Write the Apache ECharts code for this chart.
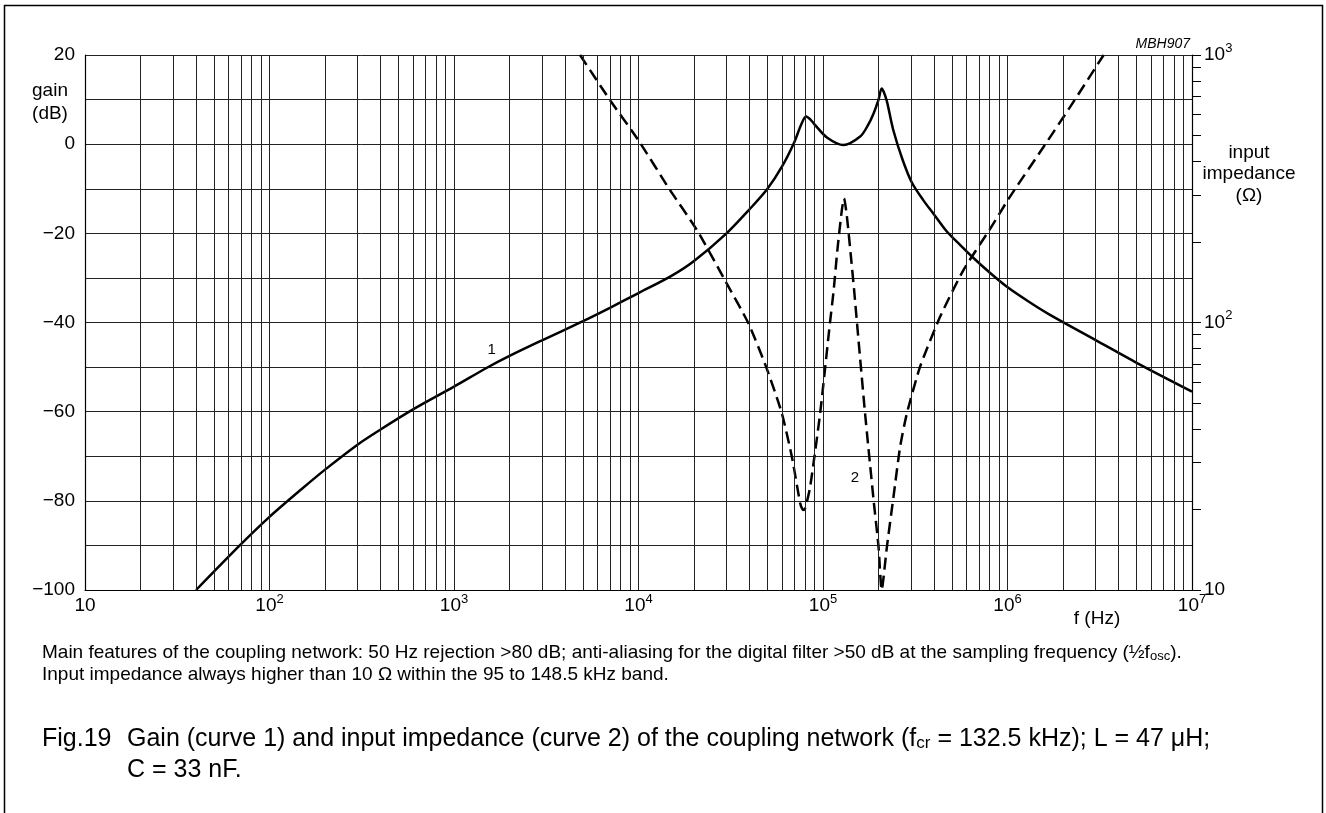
<!DOCTYPE html>
<html><head><meta charset="utf-8">
<script src="https://cdn.jsdelivr.net/npm/echarts@6/dist/echarts.min.js"></script>
<style>html,body{margin:0;padding:0;background:#fff}#c{width:1326px;height:813px}</style>
</head><body><div id="c"></div><script>
// ---- data ----
const gainFreq = [40,69,100,150,200,300,400,600,1000,1500,2000,3000,5000,7000,10000,15000,20000,30000,40000,50000,60000,70000,76000,81000,86000,91000,105000,129000,159000,175000,188000,200000,208000,213000,222000,241000,270000,303000,350000,397000,469000,560000,641000,800000,993000,1300000,1700000,2990000,5040000,10000000];
const gainDb   = [-100,-90,-83.6,-77.3,-73,-67.4,-64,-59.5,-54.4,-50.2,-47.5,-44,-39.7,-36.7,-33.4,-29.6,-26.2,-20,-14.6,-10,-5,0.5,4.3,6.2,5.4,4.2,1.5,-0.2,1.7,4.2,6.9,10,12.5,11.8,9.6,3,-3.5,-8.6,-12.6,-15.6,-19.6,-22.8,-25.2,-28.8,-32,-35.3,-38.3,-43.9,-49.1,-55.5];

const impFreq = [4820,7000,9970,14800,20700,29400,39400,49500,59800,67800,75200,77500,79000,81000,85200,96500,109000,114000,119700,126500,130000,134500,141400,147500,152000,169000,188000,200000,208000,222000,241000,262000,285000,336000,431000,577000,805000,1030000,1570000,2190000,3320000];
const impOhm  = [1000,679,481,313,222,144,99.3,67.4,45.8,31.5,21.1,20,19.9,20.8,24.3,45.8,99.3,130,187,263,291,252,179,132,104,45.8,21.7,14.5,10,14.5,22.3,34.4,45.8,68.4,105,157,224,295,454,641,1000];

const gridFreqs = [20,30,40,50,60,70,80,90,100,200,300,400,500,600,700,800,900,1000,2000,3000,4000,5000,6000,7000,8000,9000,10000,20000,30000,40000,50000,60000,70000,80000,90000,100000,200000,300000,400000,500000,600000,700000,800000,900000,1000000,2000000,3000000,4000000,5000000,6000000,7000000,8000000,9000000];
const rightTickValues = [10,20,30,40,50,60,70,80,90,100,200,300,400,500,600,700,800,900,1000];
const xLabelValues = [10,100,1000,10000,100000,1000000,10000000];
const rightLabelValues = [10,100,1000];
const curveLabels = [{name:'1', f:1600, db:-46.1},{name:'2', f:149000, db:-74.8}];

const FONT = '"Liberation Sans", Arial, Helvetica, sans-serif';
const pow10Label = v => {
  const e = Math.round(Math.log10(v));
  return e === 1 ? '{b|10}' : '{b|10}{s|' + e + '}';
};
const richSup = {
  b: {fontSize: 19, lineHeight: 28, color: '#000', fontFamily: FONT},
  s: {fontSize: 13, padding: [0, 0, 14, 0], color: '#000', fontFamily: FONT}
};

const chart = echarts.init(document.getElementById('c'), null, {renderer: 'canvas'});
chart.setOption({
  animation: false,
  backgroundColor: '#fff',
  textStyle: {fontFamily: FONT, color: '#000'},
  grid: {left: 85, right: 134, top: 55, bottom: 223, containLabel: false, outerBoundsMode: 'none'},
  xAxis: [{
    type: 'log', logBase: 10, min: 10, max: 10000000,
    axisLine: {show: true, onZero: false, lineStyle: {color: '#000', width: 1.2}},
    axisTick: {show: false},
    splitLine: {show: false},
    axisLabel: {show: true, interval: 0, margin: 2, formatter: pow10Label, rich: richSup,
                customValues: xLabelValues}
  }],
  yAxis: [{
    type: 'value', min: -100, max: 20, interval: 10, position: 'left',
    axisLine: {show: true, lineStyle: {color: '#000', width: 1.2}},
    axisTick: {show: false},
    splitLine: {show: true, lineStyle: {color: '#222', width: 1}},
    axisLabel: {margin: 10, fontSize: 19, color: '#000', fontFamily: FONT,
      formatter: v => (v % 20 === 0 ? (v < 0 ? '\u2212' + (-v) : String(v)) : '')}
  }, {
    type: 'log', logBase: 10, min: 10, max: 1000, position: 'right',
    axisLine: {show: true, lineStyle: {color: '#000', width: 1.2}},
    axisTick: {show: true, inside: false, length: 9, lineStyle: {color: '#000', width: 1}, customValues: rightTickValues},
    splitLine: {show: false},
    axisLabel: {margin: 12, formatter: pow10Label, rich: richSup, customValues: rightLabelValues}
  }],
  graphic: [
    {type: 'rect', silent: true, z: -1, shape: {x: 4.5, y: 5.5, width: 1318, height: 900},
     style: {fill: 'none', stroke: '#000', lineWidth: 1.5}},
    {type: 'text', silent: true, style: {x: 1190, y: 44, text: 'MBH907', align: 'right', verticalAlign: 'middle',
      font: 'italic 14px ' + FONT, fill: '#000'}},
    {type: 'text', silent: true, style: {x: 50, y: 102, text: 'gain\n(dB)', align: 'center', verticalAlign: 'middle',
      font: '19px ' + FONT, lineHeight: 23, fill: '#000'}},
    {type: 'text', silent: true, style: {x: 1249, y: 174, text: 'input\nimpedance\n(\u03A9)', align: 'center', verticalAlign: 'middle',
      font: '19px ' + FONT, lineHeight: 21.5, fill: '#000'}},
    {type: 'text', silent: true, style: {x: 1097, y: 619, text: 'f (Hz)', align: 'center', verticalAlign: 'middle',
      font: '19px ' + FONT, fill: '#000'}},
    {type: 'text', silent: true, style: {x: 42, y: 653, align: 'left', verticalAlign: 'middle',
      text: 'Main features of the coupling network: 50 Hz rejection >80 dB; anti-aliasing for the digital filter >50 dB at the sampling frequency (\u00BDf{sub|osc}).',
      font: '19px ' + FONT, fill: '#000',
      rich: {sub: {fontSize: 13, lineHeight: 13, verticalAlign: 'bottom', fontFamily: FONT, fill: '#000'}}}},
    {type: 'text', silent: true, style: {x: 42, y: 675, align: 'left', verticalAlign: 'middle',
      text: 'Input impedance always higher than 10 \u03A9 within the 95 to 148.5 kHz band.',
      font: '19px ' + FONT, fill: '#000'}},
    {type: 'text', silent: true, style: {x: 42, y: 739, align: 'left', verticalAlign: 'middle',
      text: 'Fig.19', font: '25px ' + FONT, fill: '#000'}},
    {type: 'text', silent: true, style: {x: 127, y: 739, align: 'left', verticalAlign: 'middle',
      text: 'Gain (curve 1) and input impedance (curve 2) of the coupling network (f{sub|cr} = 132.5 kHz); L = 47 \u03BCH;',
      font: '25px ' + FONT, fill: '#000',
      rich: {sub: {fontSize: 17, lineHeight: 17, verticalAlign: 'bottom', fontFamily: FONT, fill: '#000'}}}},
    {type: 'text', silent: true, style: {x: 127, y: 770, align: 'left', verticalAlign: 'middle',
      text: 'C = 33 nF.', font: '25px ' + FONT, fill: '#000'}}
  ],
  series: [{
    type: 'line', name: 'grid', xAxisIndex: 0, yAxisIndex: 0, z: 1,
    data: [[10, -100]], showSymbol: false, lineStyle: {width: 0}, silent: true,
    markLine: {
      silent: true, symbol: ['none', 'none'], label: {show: false}, animation: false,
      emphasis: {disabled: true},
      lineStyle: {color: '#222', width: 1, type: 'solid'},
      data: gridFreqs.map(v => ({xAxis: v}))
    }
  }, {
    type: 'line', name: 'gain', xAxisIndex: 0, yAxisIndex: 0, z: 3,
    data: gainFreq.map((f, i) => [f, gainDb[i]]),
    showSymbol: false, smooth: 0.3, silent: true,
    lineStyle: {color: '#000', width: 2.5},
    markPoint: {
      silent: true, symbol: 'circle', symbolSize: 0, animation: false,
      label: {show: true, position: 'inside', formatter: p => p.name, color: '#000', fontSize: 15, fontFamily: FONT},
      data: curveLabels.map(c => ({name: c.name, coord: [c.f, c.db]}))
    }
  }, {
    type: 'line', name: 'impedance', xAxisIndex: 0, yAxisIndex: 1, z: 3,
    data: impFreq.map((f, i) => [f, impOhm[i]]),
    showSymbol: false, smooth: 0.2, silent: true,
    lineStyle: {color: '#000', width: 2.5, type: [12, 6]}
  }]
});
</script></body></html>
